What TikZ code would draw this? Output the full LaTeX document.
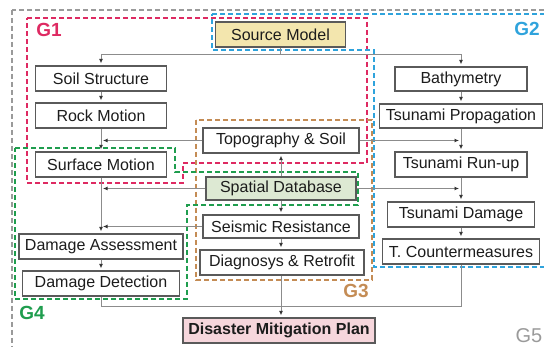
\documentclass[tikz,border=0pt]{standalone}
\usepackage{fontspec}
\setmainfont{Liberation Sans}
\usetikzlibrary{arrows.meta}
\definecolor{gred}{HTML}{DE2A62}
\definecolor{gblue}{HTML}{2FA3DC}
\definecolor{gbrown}{HTML}{C48C55}
\definecolor{ggreen}{HTML}{1F9D4E}
\definecolor{ggray}{HTML}{9A9A9A}
\definecolor{boxgray}{HTML}{5A5A5A}
\definecolor{linegray}{HTML}{8C8C8C}
\definecolor{tipgray}{HTML}{333333}
\definecolor{textdark}{HTML}{1C1C1C}
\definecolor{srcfill}{HTML}{F3E6AE}
\definecolor{dbfill}{HTML}{DDE9D3}
\definecolor{planfill}{HTML}{F6D6DC}
\begin{document}
\begin{tikzpicture}[x=1pt,y=-1pt,
  box/.style={draw=boxgray, line width=1.3pt, fill=white, minimum height=25pt,
    inner sep=0pt, font=\fontsize{16}{19}\selectfont, text=textdark},
  link/.style={draw=linegray, line width=1pt},
  arr/.style={link, -{Latex[length=4.5pt,width=4pt,color=tipgray]}, shorten >=2pt},
  grp/.style={line width=1.8pt, dash pattern=on 5pt off 3pt},
  glabel/.style={font=\fontsize{19}{22}\selectfont\bfseries}]
\useasboundingbox (0,0) rectangle (544,347);
\clip (0,0) rectangle (544,347);

% group outlines
\draw[grp, ggray] (12,10) rectangle (560,360);
\draw[grp, gred] (27,18) -- (367,18) -- (367,163) -- (183,163) -- (183,183) -- (27,183) -- cycle;
\draw[grp, gblue] (212,14) -- (552,14) -- (552,267) -- (374,267) -- (374,50) -- (212,50) -- cycle;
\draw[grp, gbrown] (196,120) rectangle (372,280);
\draw[grp, ggreen] (15,148) -- (175,148) -- (175,172) -- (358,172) -- (358,205) -- (187,205) -- (187,299) -- (15,299) -- cycle;

% group labels
\node[glabel, text=gred] (g1) at (49,30) {G1};
\node[glabel, text=gblue] (g2) at (527,29) {G2};
\node[glabel, text=gbrown] (g3) at (356,291) {G3};
\node[glabel, text=ggreen] (g4) at (32,313) {G4};
\node[font=\fontsize{20}{23}\selectfont, text=ggray, inner sep=1pt] (g5) at (529,336) {G5};

% boxes
\node[box, minimum width=130pt, fill=srcfill] (src) at (280.5,34.5) {Source Model};
\node[box, minimum width=131pt] (soil) at (101,78.5) {Soil Structure};
\node[box, minimum width=131pt] (rock) at (101,115.5) {Rock Motion};
\node[box, minimum width=131pt] (surf) at (101,164.5) {Surface Motion};
\node[box, minimum width=156pt] (topo) at (281,140.5) {Topography \& Soil};
\node[box, minimum width=150pt, minimum height=23pt, fill=dbfill] (spat) at (281,188.5) {Spatial Database};
\node[box, minimum width=156pt, minimum height=23pt] (seis) at (281,226.5) {Seismic Resistance};
\node[box, minimum width=164pt] (diag) at (282,262.5) {Diagnosys \& Retrofit};
\node[box, minimum width=192pt, fill=planfill, font=\fontsize{16}{19}\selectfont\bfseries] (plan) at (279,330.5) {Disaster Mitigation Plan};
\node[box, minimum width=164pt] (dass) at (101,246.5) {Damage Assessment};
\node[box, minimum width=157pt] (ddet) at (101,283.5) {Damage Detection};
\node[box, minimum width=132pt, minimum height=24pt] (bath) at (461,79) {Bathymetry};
\node[box, minimum width=163pt, minimum height=24pt] (tprop) at (461,116) {Tsunami Propagation};
\node[box, minimum width=132pt] (trun) at (461,164.5) {Tsunami Run-up};
\node[box, minimum width=147pt] (tdam) at (461,214.5) {Tsunami Damage};
\node[box, minimum width=157pt] (tcm) at (461,251.5) {T. Countermeasures};

% junction points
\coordinate (split) at (280.5,55);
\coordinate (merge) at (281,307);

% source model branches
\draw[link] (src.south) -- (split);
\draw[arr] (split) -| (soil.north);
\draw[arr] (split) -| (bath.north);

% seismic chain
\draw[arr] (soil.south) -- (rock.north);
\draw[arr] (rock.south) -- (surf.north);
\draw[arr] (surf.south) -- (dass.north);
\draw[arr] (dass.south) -- (ddet.north);

% tsunami chain
\draw[arr] (bath.south) -- (tprop.north);
\draw[arr] (tprop.south) -- (trun.north);
\draw[arr] (trun.south) -- (tdam.north);
\draw[arr] (tdam.south) -- (tcm.north);

% shared data links
\draw[arr] (topo.west) -- (topo.west -| rock.south);
\draw[arr] (topo.east) -- (topo.east -| tprop.south);
\draw[arr] (spat.north) -- (topo.south);
\draw[arr] (spat.west) -- (spat.west -| surf.south);
\draw[arr] (spat.east) -- (spat.east -| trun.south);
\draw[arr] (spat.south) -- (seis.north);
\draw[arr] (seis.west) -- (seis.west -| surf.south);
\draw[arr] (seis.south -| merge) -- (diag.north -| merge);

% towards the plan
\draw[link] (ddet.south) |- (merge);
\draw[link] (tcm.south) |- (merge);
\draw[arr] (diag.south -| merge) -- (plan.north -| merge);
\end{tikzpicture}
\end{document}
